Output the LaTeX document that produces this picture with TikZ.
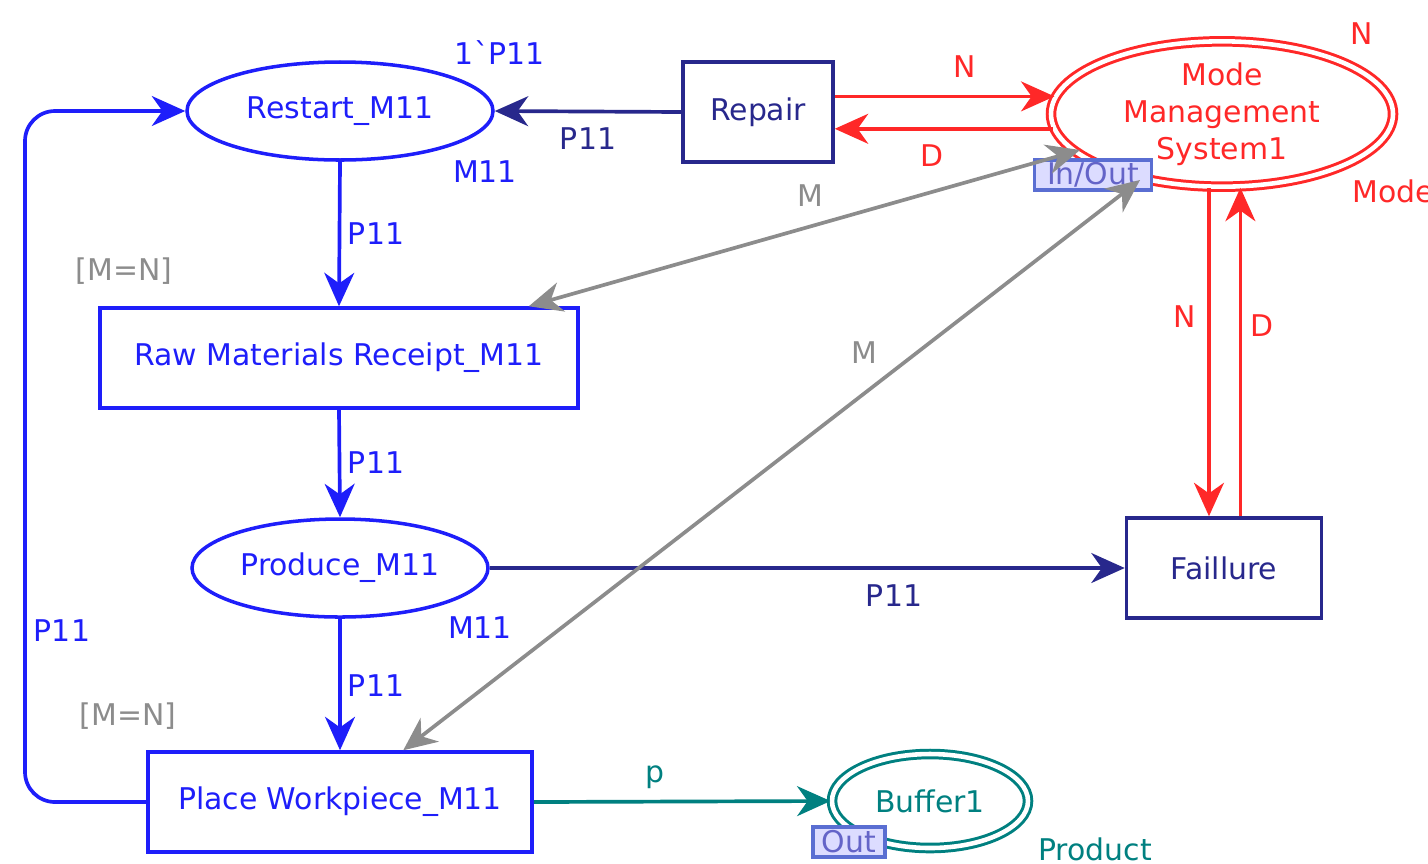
\documentclass[tikz,border=0pt]{standalone}
\usepackage{fontspec}
\setmainfont{DejaVu Sans}
\usetikzlibrary{shapes.geometric,arrows.meta,calc}
\definecolor{cblue}{RGB}{30,30,250}
\definecolor{cnavy}{RGB}{40,40,140}
\definecolor{cred}{RGB}{255,40,40}
\definecolor{cgray}{RGB}{140,140,140}
\definecolor{cteal}{RGB}{0,128,128}
\definecolor{tagfill}{RGB}{220,220,255}
\definecolor{tagdraw}{RGB}{90,110,210}
\definecolor{tagtext}{RGB}{100,100,200}
\begin{document}
\begin{tikzpicture}[x=0.01cm,y=-0.01cm,
  font=\fontsize{8.5}{10}\selectfont,
  place/.style={ellipse,draw,line width=1pt,inner sep=0pt},
  dplace/.style={ellipse,draw,double,double distance=1.3pt,line width=0.85pt,inner sep=0pt,align=center},
  trans/.style={rectangle,draw,line width=1pt,inner sep=0pt},
  arc/.style={line width=1.05pt,-{Stealth[length=9.5pt,width=8.5pt,inset=3pt]}},
  darc/.style={line width=1.05pt,{Stealth[length=9.5pt,width=8.5pt,inset=3pt]}-{Stealth[length=9.5pt,width=8.5pt,inset=3pt]}},
  tag/.style={rectangle,draw=tagdraw,fill=tagfill,text=tagtext,line width=0.9pt,inner sep=0.6pt,minimum height=30*0.01cm},
  lbl/.style={inner sep=0pt}
]
\useasboundingbox (0,0) rectangle (1428,863);

% places
\node[place,draw=cblue,text=cblue,minimum width=306*0.01cm,minimum height=98*0.01cm] (restart) at (340,111) {Restart\_M11};
\node[place,draw=cblue,text=cblue,minimum width=296*0.01cm,minimum height=98*0.01cm] (produce) at (340,568) {Produce\_M11};
\node[dplace,draw=cred,text=cred,minimum width=342*0.01cm,minimum height=144*0.01cm] (mms) at (1222,114) {Mode\\[0.5pt]Management\\[0.5pt]System1};
\node[dplace,draw=cteal,text=cteal,minimum width=196*0.01cm,minimum height=94*0.01cm] (buffer) at (930,801) {Buffer1};

% transitions
\node[trans,draw=cnavy,text=cnavy,minimum width=150*0.01cm,minimum height=100*0.01cm] (repair) at (758,112) {Repair};
\node[trans,draw=cblue,text=cblue,minimum width=478*0.01cm,minimum height=100*0.01cm] (raw) at (339,358) {Raw Materials Receipt\_M11};
\node[trans,draw=cnavy,text=cnavy,minimum width=195*0.01cm,minimum height=100*0.01cm] (failure) at (1224,568) {Faillure};
\node[trans,draw=cblue,text=cblue,minimum width=384*0.01cm,minimum height=100*0.01cm] (placewp) at (340,802) {Place Workpiece\_M11};

% tags
\node[tag,minimum width=117*0.01cm] (inout) at (1093,175) {In/Out};
\node[tag,minimum width=72*0.01cm] (outtag) at (849,842) {Out};

% free ends of the gray arcs
\coordinate (g1) at (1080,150);
\coordinate (g2) at (1140,180);

% blue arcs
\draw[arc,cblue] (restart.south) -- (raw.north);
\draw[arc,cblue] (raw.south) -- (produce.north);
\draw[arc,cblue] (produce.south) -- (placewp.north);
\draw[arc,cblue,rounded corners=0.3cm] (placewp.west) -- (placewp.west -| 25,0) -- (restart.west -| 25,0) -- (restart.west);

% navy arcs
\draw[arc,cnavy] (repair.west) -- (restart.east);
\draw[arc,cnavy] (produce.east) -- (failure.west);

% red arcs
\draw[arc,cred] (repair.east |- mms.174) -- (mms.174);
\draw[arc,cred] (mms.185) -- (repair.east |- mms.185);
\draw[arc,cred] (mms.260) -- (failure.north -| mms.260);
\draw[arc,cred] (failure.north -| mms.284) -- (mms.284);

% teal arc
\draw[arc,cteal] (placewp.east) -- (buffer.west);

% gray arcs
\draw[darc,cgray] (g1) -- ($(raw.north east)+(-51,0)$);
\draw[darc,cgray] (g2) -- ($(placewp.north west)+(257,0)$);

% labels
\node[lbl,text=cblue] (l1) at (500,53) {1\textasciigrave P11};
\node[lbl,text=cblue] (l2) at (485,172) {M11};
\node[lbl,text=cnavy] (l3) at (588,139) {P11};
\node[lbl,text=cred] (l4) at (965,67) {N};
\node[lbl,text=cred] (l5) at (932,156) {D};
\node[lbl,text=cred] (l6) at (1362,34) {N};
\node[lbl,text=cred,anchor=west] (l7) at (1352,191) {Mode};
\node[lbl,text=cgray] (l8) at (810,196) {M};
\node[lbl,text=cblue] (l9) at (376,234) {P11};
\node[lbl,text=cgray] (l10) at (124,271) {[M=N]};
\node[lbl,text=cred] (l11) at (1185,317) {N};
\node[lbl,text=cred] (l12) at (1262,326) {D};
\node[lbl,text=cgray] (l13) at (864,353) {M};
\node[lbl,text=cblue] (l14) at (376,463) {P11};
\node[lbl,text=cnavy] (l15) at (894,596) {P11};
\node[lbl,text=cblue] (l16) at (480,628) {M11};
\node[lbl,text=cblue] (l17) at (62,631) {P11};
\node[lbl,text=cblue] (l18) at (376,686) {P11};
\node[lbl,text=cgray] (l19) at (128,716) {[M=N]};
\node[lbl,text=cteal] (l20) at (655,777) {p};
\node[lbl,text=cteal] (l21) at (1095,849) {Product};
\end{tikzpicture}
\end{document}
